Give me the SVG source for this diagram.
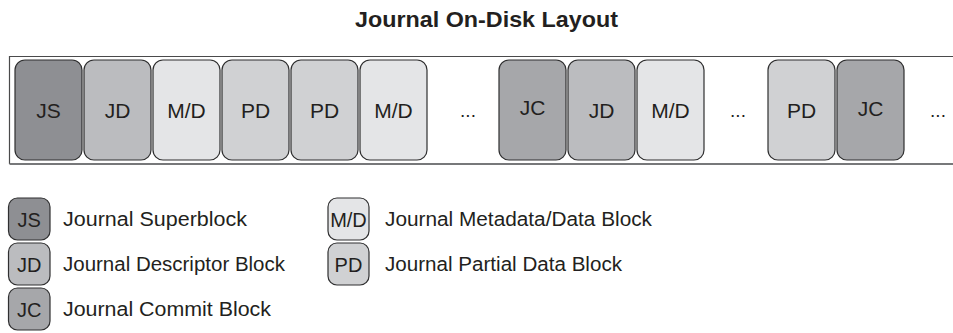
<svg xmlns="http://www.w3.org/2000/svg" width="953" height="333" viewBox="0 0 953 333">
  <style>
    text { font-family: "Liberation Sans", Arial, sans-serif; fill: #231f20; }
    .title { font-size: 22px; font-weight: bold; text-anchor: middle; }
    .blk { stroke: #2f2f30; stroke-width: 1.2; }
    .lbl { font-size: 21px; text-anchor: middle; }
    .key { font-size: 20px; text-anchor: middle; }
    .dots { font-size: 19px; text-anchor: middle; }
    .leg { font-size: 20px; }
    .js { fill: #8e8f93; }
    .jd { fill: #bbbcbf; }
    .jc { fill: #a6a7aa; }
    .md { fill: #e4e5e7; }
    .pd { fill: #d0d1d3; }
  </style>
  <rect width="953" height="333" fill="#ffffff"/>

  <text class="title" x="486.5" y="27" textLength="263" lengthAdjust="spacingAndGlyphs">Journal On-Disk Layout</text>

  <!-- journal area frame, open on the right -->
  <g id="frame" fill="none">
    <path d="M953,56.5 H9.5 V163.5 H953" stroke="#4a4a4b" stroke-width="1.2"/>
    <path d="M9.5,164 H953" stroke="#77787a" stroke-width="2"/>
  </g>

  <!-- journal blocks -->
  <g id="b1"><rect class="blk js" x="15" y="60" width="67" height="100" rx="10"/><text class="lbl" x="48.5" y="118">JS</text></g>
  <g id="b2"><rect class="blk jd" x="84" y="60" width="67" height="100" rx="10"/><text class="lbl" x="117.5" y="118">JD</text></g>
  <g id="b3"><rect class="blk md" x="153" y="60" width="67" height="100" rx="10"/><text class="lbl" x="186.5" y="118">M/D</text></g>
  <g id="b4"><rect class="blk pd" x="222" y="60" width="67" height="100" rx="10"/><text class="lbl" x="255.5" y="118">PD</text></g>
  <g id="b5"><rect class="blk pd" x="291" y="60" width="67" height="100" rx="10"/><text class="lbl" x="324.5" y="118">PD</text></g>
  <g id="b6"><rect class="blk md" x="360" y="60" width="67" height="100" rx="10"/><text class="lbl" x="393.5" y="118">M/D</text></g>
  <text class="dots" x="468" y="117">...</text>
  <g id="b7"><rect class="blk jc" x="499" y="60" width="67" height="100" rx="10"/><text class="lbl" x="532.5" y="115">JC</text></g>
  <g id="b8"><rect class="blk jd" x="568" y="60" width="67" height="100" rx="10"/><text class="lbl" x="601.5" y="118">JD</text></g>
  <g id="b9"><rect class="blk md" x="637" y="60" width="67" height="100" rx="10"/><text class="lbl" x="670.5" y="118">M/D</text></g>
  <text class="dots" x="738" y="117">...</text>
  <g id="b10"><rect class="blk pd" x="768" y="60" width="67" height="100" rx="10"/><text class="lbl" x="801.5" y="118">PD</text></g>
  <g id="b11"><rect class="blk jc" x="837" y="60" width="67" height="100" rx="10"/><text class="lbl" x="870.5" y="116">JC</text></g>
  <text class="dots" x="938" y="117">...</text>

  <!-- legend -->
  <g id="leg-js"><rect class="blk js" x="8.5" y="198" width="41.5" height="42" rx="9"/><text class="key" x="29.25" y="226.5">JS</text><text class="leg" x="63" y="226" textLength="184" lengthAdjust="spacingAndGlyphs">Journal Superblock</text></g>
  <g id="leg-jd"><rect class="blk jd" x="8.5" y="243" width="41.5" height="42" rx="9"/><text class="key" x="29.25" y="271.5">JD</text><text class="leg" x="63" y="271" textLength="222" lengthAdjust="spacingAndGlyphs">Journal Descriptor Block</text></g>
  <g id="leg-jc"><rect class="blk jc" x="8.5" y="288" width="41.5" height="42" rx="9"/><text class="key" x="29.25" y="316.5">JC</text><text class="leg" x="63" y="316" textLength="208" lengthAdjust="spacingAndGlyphs">Journal Commit Block</text></g>
  <g id="leg-md"><rect class="blk md" x="328" y="198" width="41" height="42" rx="9"/><text class="key" x="348.5" y="226.5">M/D</text><text class="leg" x="385" y="226" textLength="267" lengthAdjust="spacingAndGlyphs">Journal Metadata/Data Block</text></g>
  <g id="leg-pd"><rect class="blk pd" x="328" y="243" width="41" height="42" rx="9"/><text class="key" x="348.5" y="271.5">PD</text><text class="leg" x="385" y="271" textLength="237" lengthAdjust="spacingAndGlyphs">Journal Partial Data Block</text></g>
</svg>
